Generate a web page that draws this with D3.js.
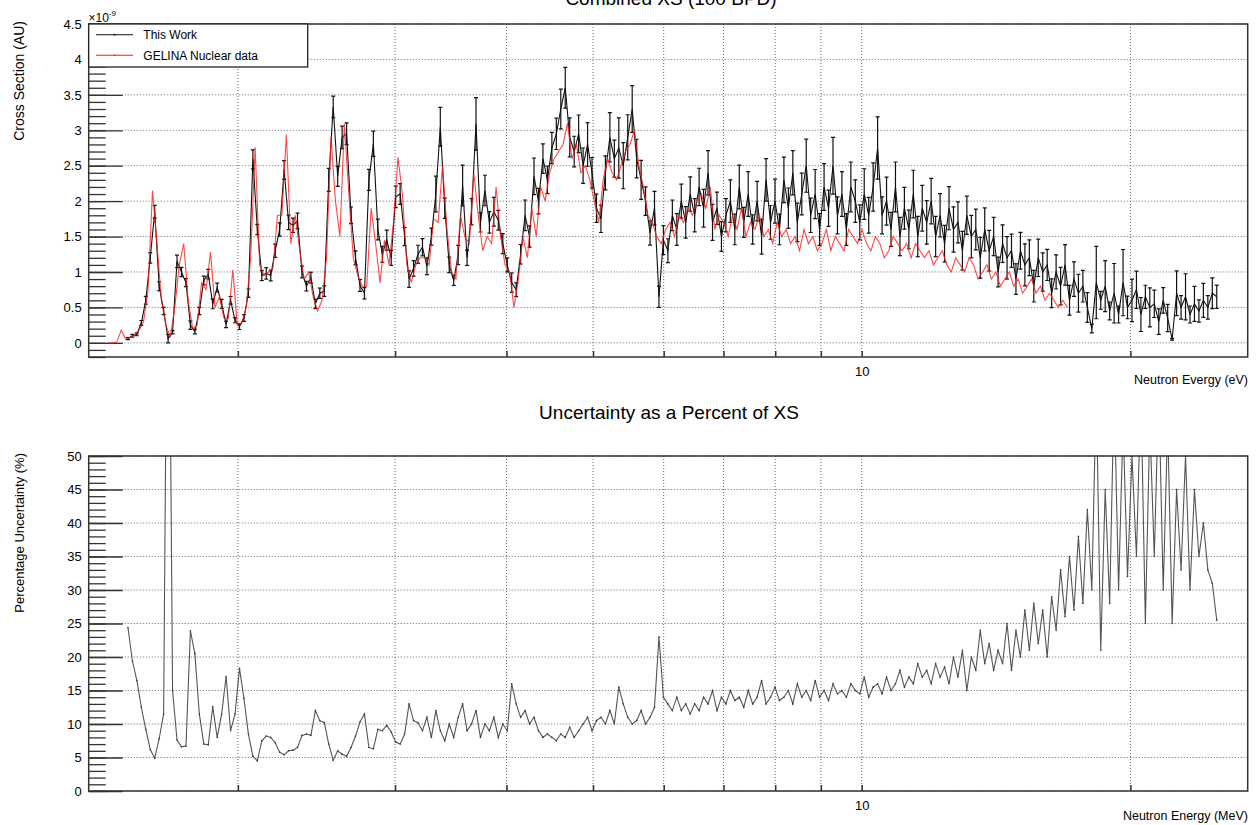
<!DOCTYPE html>
<html><head><meta charset="utf-8">
<script src="https://cdn.jsdelivr.net/npm/d3@7"></script>
<style>
body{margin:0;background:#fff}
svg{display:block}
text{font-family:"Liberation Sans",Arial,Helvetica,sans-serif;fill:#000}
</style>
</head><body>
<svg id="c" width="1256" height="825"></svg>
<script>
// ---------------- DATA ----------------
const BINS_PER_DECADE = 200;      // log-spaced energy bins
const THIS_WORK_E0 = 1.506;       // eV, first bin of "This Work"
const GELINA_E0 = 1.430;          // eV, first bin of GELINA data

// Cross section (x1e-9 AU), This Work
const thisWorkXS = [
0.06,0.10,0.12,0.28,0.6,1.2,1.85,0.8,0.45,0.06,
0.15,1.15,1.0,0.85,0.25,0.16,0.45,0.88,0.97,0.55,
0.78,0.55,0.26,0.6,0.32,0.23,0.35,0.7,2.59,1.6,
0.95,0.98,0.95,1.3,1.6,2.44,1.7,1.66,1.72,1.0,
0.8,0.92,0.55,0.7,0.73,2.3,3.33,2.35,2.9,2.95,
1.8,1.2,0.81,0.7,2.3,2.81,1.6,1.25,1.45,1.2,
2.06,2.1,1.5,0.9,1.05,1.25,1.35,1.08,1.5,2.1,
3.05,1.9,1.1,0.88,1.24,2.22,1.2,1.85,3.09,1.7,
2.15,1.7,1.85,1.73,
1.4,1.1,0.85,0.75,1.25,1.8,1.5,2.35,2.0,2.6,
2.3,2.75,2.95,3.3,3.6,2.9,2.7,2.95,2.5,2.8,
2.4,1.9,1.75,2.4,2.9,2.6,2.75,2.5,2.9,3.3,
2.6,2.3,2.0,1.55,1.9,0.65,1.45,1.3,1.8,1.6,
2.0,1.7,2.1,1.8,2.2,1.9,2.4,1.7,1.9,1.5,
1.8,2.0,1.6,2.2,1.7,2.1,1.6,2.0,1.5,2.3,
1.7,2.0,1.6,2.3,1.9,2.4,1.7,2.1,2.5,1.8,
2.1,1.6,2.2,1.9,2.5,1.8,2.1,1.6,2.2,2.0,
1.7,2.1,1.8,2.2,2.75,1.8,2.0,1.6,2.2,1.5,
1.9,1.6,2.1,1.5,1.9,1.7,2.0,1.5,1.8,1.4,
1.9,1.6,1.7,1.3,1.8,1.5,1.6,1.2,1.6,1.3,
1.5,1.0,1.4,1.2,1.3,0.9,1.3,1.1,1.2,0.8,
1.2,1.0,1.1,0.7,1.0,0.8,1.1,0.6,0.9,0.7,
0.8,0.5,0.2,0.85,0.6,0.8,0.45,0.7,0.4,0.85,
0.5,0.6,0.75,0.4,0.65,0.5,0.55,0.3,0.6,0.35,
0.05,0.7,0.5,0.65,0.4,0.55,0.45,0.6,0.5,0.7,
0.65
];

// Cross section (x1e-9 AU), GELINA nuclear data
const gelinaXS = [
0.0,0.0,0.01,0.18,0.05,0.08,0.11,0.18,0.3,0.75,
2.15,1.4,0.6,0.25,0.08,0.5,1.1,1.4,0.6,0.2,
0.25,0.85,0.75,1.28,0.5,0.65,0.35,0.35,1.03,0.25,
0.28,0.5,1.2,2.76,1.1,0.95,1.0,1.05,1.8,1.8,
2.94,1.4,1.8,1.3,0.9,1.0,0.65,0.45,0.6,1.2,
2.91,2.0,1.5,3.09,2.1,1.2,0.95,0.8,0.8,1.9,
1.4,0.85,1.45,1.1,1.7,2.62,2.1,1.1,0.85,1.1,
1.2,1.2,1.1,1.75,1.7,2.5,1.6,1.0,0.9,1.8,
1.5,1.4,2.4,1.8,1.3,1.5,1.4,2.2,
1.5,1.1,1.0,0.5,0.9,1.5,1.2,1.9,1.5,2.2,
2.0,2.4,2.6,2.7,2.8,3.1,2.6,2.8,2.4,2.5,
2.3,2.0,1.7,2.3,2.6,2.4,2.3,2.5,2.7,2.8,
3.0,2.5,2.2,1.8,1.7,1.5,1.4,1.6,1.7,1.5,
1.8,1.7,1.9,1.8,2.0,2.1,1.9,2.2,1.6,1.8,
1.7,1.5,1.8,1.6,1.9,1.5,1.7,1.6,1.8,1.5,
1.6,1.4,1.7,1.5,1.6,1.4,1.5,1.3,1.6,1.4,
1.5,1.3,1.4,1.6,1.3,1.5,1.4,1.3,1.6,1.5,
1.4,1.6,1.4,1.3,1.5,1.4,1.2,1.3,1.5,1.4,
1.3,1.4,1.2,1.4,1.3,1.2,1.3,1.1,1.2,1.3,
1.1,1.0,1.2,1.1,1.0,1.2,1.1,0.9,1.0,1.1,
0.9,1.0,0.8,0.9,1.0,0.8,0.9,0.7,0.8,0.9,
0.7,0.8,0.6,0.7,0.6,0.5,0.6,0.5
];

// Uncertainty as a percent of XS (This Work bins)
const uncertaintyPct = [
24.4,19.4,16.5,12.5,9.2,6.2,4.9,7.8,11.5,100,
15,7.6,6.6,6.7,23.9,20.5,11.5,7.0,6.9,12.6,
8.0,11.5,17.1,9.0,11.5,18.3,13.8,8.5,5.2,4.5,
7.5,8.2,8.0,7.2,5.8,5.4,6.0,6.1,6.5,8.3,
8.5,8.3,12.0,10.5,10.2,7.0,4.6,6.0,5.5,5.2,
6.5,8.2,10.3,11.5,6.5,6.3,9.2,9.0,9.8,8.8,
7.3,7.0,8.5,13.0,10.5,10.2,
9,11,8,12,9,7.5,10,8,11,13,
9,10,12,8,10,9,11,8,10,9,
16,13,11,12,10,11,9,8,8.5,8,
7.5,8.5,8,9.5,8,9,10,11,9,10.5,
11,10,12,10,15.5,13,11,10,10.5,12,
10,11,12.5,23,14,13,12,14,12,13,
11.5,13,12,14,13,15,12,14,13,15,
13.5,14,12.5,15,13,14,16.5,13,14,15.5,
13.5,14,15,13,16,14,15,13.5,16.5,14,
15,13.5,16,14.5,15,14,16,15,14.5,17,
14,15.5,16,14.5,17,15,16,18,15.5,17,
16,19,17,18,16,19,17,18.5,16,20,
17,21,15,20,18,24,19,22,18,21,
19,25,18,24,20,27,21,28,22,27,
20,29,24,33,26,35,27,38,28,42,
30,60,21,45,28,60,30,55,32,50,
35,60,25,55,35,60,30,55,25,45,
33,50,30,45,35,40,33,31,25.5
];

const energyDomain = [1.361, 27.07];           // eV
const xGridTicks = [2,3,4,5,6,7,8,9,10,20];
const xLabelTicks = [10];
const xsDomain = [-0.2, 4.5];
const pctDomain = [0, 50];

// ---------------- LAYOUT ----------------
const svg = d3.select("#c");
const L = 88.7, R = 1247.7;
const top1 = 24, bot1 = 357;
const top2 = 456, bot2 = 791;
const FONT = '"Liberation Sans",Arial,Helvetica,sans-serif';

const x = d3.scaleLog().domain(energyDomain).range([L, R]);
const yTop = d3.scaleLinear().domain(xsDomain).range([bot1, top1]);
const yBot = d3.scaleLinear().domain(pctDomain).range([bot2, top2]);

const binE = (e0, i) => e0 * Math.pow(10, i / BINS_PER_DECADE);
const thisWork = thisWorkXS.map((v, i) => ({e: binE(THIS_WORK_E0, i), v, pct: uncertaintyPct[i]}));
const gelina = gelinaXS.map((v, i) => ({e: binE(GELINA_E0, i), v}));
const unc = uncertaintyPct.map((v, i) => ({e: binE(THIS_WORK_E0, i), v}));

const defs = svg.append("defs");
defs.append("clipPath").attr("id","clipTop").append("rect").attr("x",L).attr("y",top1).attr("width",R-L).attr("height",bot1-top1);
defs.append("clipPath").attr("id","clipBot").append("rect").attr("x",L).attr("y",top2).attr("width",R-L).attr("height",bot2-top2);

function frame(y, t, b, majorStep, minorStep) {
  const [d0, d1] = y.domain();
  const major = d3.range(Math.ceil(d0/majorStep)*majorStep, d1 + 1e-9, majorStep).map(v => +v.toFixed(3));
  const minor = d3.range(Math.ceil(d0/minorStep - 1e-9)*minorStep, d1 + 1e-9, minorStep).map(v => +v.toFixed(3));
  const g = svg.append("g");
  g.append("g").selectAll("line").data(major).join("line")
    .attr("x1", L).attr("x2", R).attr("y1", d => y(d)).attr("y2", d => y(d))
    .attr("stroke", "#666").attr("stroke-width", 1).attr("stroke-dasharray", "1,2");
  g.append("g").selectAll("line").data(xGridTicks).join("line")
    .attr("x1", d => x(d)).attr("x2", d => x(d)).attr("y1", t).attr("y2", b)
    .attr("stroke", "#666").attr("stroke-width", 1).attr("stroke-dasharray", "1,2");
  const minorAx = d3.axisLeft(y).tickValues(minor).tickSize(-17).tickFormat("");
  g.append("g").attr("transform", `translate(${L},0)`).call(minorAx)
    .call(s => s.select(".domain").remove())
    .call(s => s.selectAll("line").attr("stroke", "#333").attr("stroke-width", 1.3));
  const majorAx = d3.axisLeft(y).tickValues(major).tickSize(-34).tickPadding(7)
    .tickFormat(d => d3.format("~g")(d));
  g.append("g").attr("transform", `translate(${L},0)`).call(majorAx)
    .call(s => s.select(".domain").remove())
    .call(s => s.selectAll("line").attr("stroke", "#333").attr("stroke-width", 1.3))
    .call(s => s.selectAll("text").attr("font-size", 13).attr("font-family", FONT).attr("fill", "#111"));
  const xAx = d3.axisBottom(x).tickValues(xGridTicks).tickSize(-6).tickPadding(10)
    .tickFormat(d => xLabelTicks.includes(d) ? String(d) : "");
  g.append("g").attr("transform", `translate(0,${b})`).call(xAx)
    .call(s => s.select(".domain").remove())
    .call(s => s.selectAll("line").attr("stroke", "#333").attr("stroke-width", 1.5))
    .call(s => s.selectAll("text").attr("font-size", 13).attr("font-family", FONT).attr("fill", "#111"));
  return g;
}

// ---- TOP PANEL ----
frame(yTop, top1, bot1, 0.5, 0.1);
const topPlot = svg.append("g").attr("clip-path", "url(#clipTop)");
const lineTop = d3.line().x(d => x(d.e)).y(d => yTop(d.v));

topPlot.append("path").datum(thisWork).attr("d", lineTop)
  .attr("fill", "none").attr("stroke", "#111").attr("stroke-width", 1.1);
const eb = topPlot.append("g").attr("stroke", "#111").attr("stroke-width", 1.2);
thisWork.filter(d => d.pct != null).forEach(d => {
  const err = d.v * d.pct / 100;
  const cx = x(d.e), y1 = yTop(d.v - err), y2 = yTop(d.v + err);
  eb.append("line").attr("x1", cx).attr("x2", cx).attr("y1", y1).attr("y2", y2);
  eb.append("line").attr("x1", cx - 2).attr("x2", cx + 2).attr("y1", y1).attr("y2", y1);
  eb.append("line").attr("x1", cx - 2).attr("x2", cx + 2).attr("y1", y2).attr("y2", y2);
});
topPlot.append("path").datum(gelina).attr("d", lineTop)
  .attr("fill", "none").attr("stroke", "#ff1a1a").attr("stroke-opacity", 0.8).attr("stroke-width", 1.1);

svg.append("rect").attr("x", L).attr("y", top1).attr("width", R - L).attr("height", bot1 - top1)
  .attr("fill", "none").attr("stroke", "#333").attr("stroke-width", 1.5);

// legend
const lg = svg.append("g");
lg.append("rect").attr("x", L).attr("y", top1).attr("width", 219).attr("height", 43)
  .attr("fill", "#fff").attr("stroke", "#222").attr("stroke-width", 1.3);
const legendItems = [{label: "This Work", color: "#111", y: 34.7}, {label: "GELINA Nuclear data", color: "#ff1a1a", y: 55.3}];
legendItems.forEach(it => {
  lg.append("line").attr("x1", 96).attr("x2", 133).attr("y1", it.y).attr("y2", it.y)
    .attr("stroke", it.color).attr("stroke-width", 1.1);
  lg.append("circle").attr("cx", 114.5).attr("cy", it.y).attr("r", 0.9).attr("fill", it.color);
  lg.append("text").attr("x", 143.3).attr("y", it.y + 4.3).attr("font-size", 12).text(it.label);
});

const ex = svg.append("text").attr("x", 88.5).attr("y", 22).attr("font-size", 12);
ex.append("tspan").text("\u00d710");
ex.append("tspan").attr("dy", -6).attr("font-size", 8).text("-9");

svg.append("text").attr("x", 671).attr("y", 5).attr("text-anchor", "middle").attr("font-size", 19)
  .text("Combined XS (100 BPD)");
svg.append("text").attr("transform", "translate(24,21) rotate(-90)").attr("text-anchor", "end")
  .attr("font-size", 14).text("Cross Section (AU)");
svg.append("text").attr("x", 1248).attr("y", 384).attr("text-anchor", "end").attr("font-size", 12.5)
  .text("Neutron Evergy (eV)");

// ---- BOTTOM PANEL ----
frame(yBot, top2, bot2, 5, 1);
const botPlot = svg.append("g").attr("clip-path", "url(#clipBot)");
const lineBot = d3.line().x(d => x(d.e)).y(d => yBot(d.v));
botPlot.append("path").datum(unc).attr("d", lineBot)
  .attr("fill", "none").attr("stroke", "#555").attr("stroke-width", 1.1);
botPlot.append("g").selectAll("circle").data(unc).join("circle")
  .attr("cx", d => x(d.e)).attr("cy", d => yBot(d.v)).attr("r", 0.8).attr("fill", "#333");
svg.append("rect").attr("x", L).attr("y", top2).attr("width", R - L).attr("height", bot2 - top2)
  .attr("fill", "none").attr("stroke", "#333").attr("stroke-width", 1.5);

svg.append("text").attr("x", 669).attr("y", 419).attr("text-anchor", "middle").attr("font-size", 19)
  .text("Uncertainty as a Percent of XS");
svg.append("text").attr("transform", "translate(24,453) rotate(-90)").attr("text-anchor", "end")
  .attr("font-size", 13).text("Percentage Uncertainty (%)");
svg.append("text").attr("x", 1248).attr("y", 820).attr("text-anchor", "end").attr("font-size", 12.5)
  .text("Neutron Energy (MeV)");
</script>
</body></html>
